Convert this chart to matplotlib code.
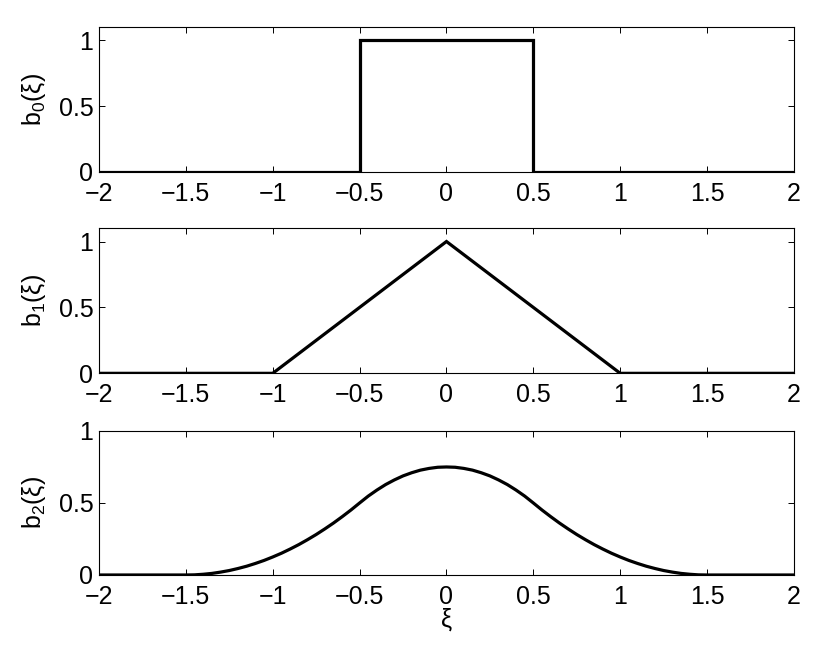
import matplotlib
matplotlib.use("Agg")
import matplotlib.pyplot as plt

plt.rcParams['font.family'] = ['Liberation Sans', 'DejaVu Sans']
plt.rcParams['mathtext.fontset'] = 'custom'
plt.rcParams['mathtext.rm'] = 'Liberation Sans'
plt.rcParams['mathtext.it'] = 'Liberation Sans'

# b0: box function
x0 = [-2.0, -0.5, -0.5, 0.5, 0.5, 2.0]
y0 = [0.0, 0.0, 1.0, 1.0, 0.0, 0.0]

# b1: hat function
x1 = [-2.0, -1.0, 0.0, 1.0, 2.0]
y1 = [0.0, 0.0, 1.0, 0.0, 0.0]

# b2: quadratic bump
x2 = [-2.0, -1.5, -1.45, -1.4, -1.35, -1.3, -1.25, -1.2, -1.15, -1.1, -1.05,
      -1.0, -0.95, -0.9, -0.85, -0.8, -0.75, -0.7, -0.65, -0.6, -0.55,
      -0.5, -0.45, -0.4, -0.35, -0.3, -0.25, -0.2, -0.15, -0.1, -0.05,
      0.0, 0.05, 0.1, 0.15, 0.2, 0.25, 0.3, 0.35, 0.4, 0.45,
      0.5, 0.55, 0.6, 0.65, 0.7, 0.75, 0.8, 0.85, 0.9, 0.95,
      1.0, 1.05, 1.1, 1.15, 1.2, 1.25, 1.3, 1.35, 1.4, 1.45, 1.5, 2.0]
y2 = [0.0, 0.0, 0.001, 0.005, 0.011, 0.02, 0.031, 0.045, 0.061, 0.08, 0.101,
      0.125, 0.151, 0.18, 0.211, 0.245, 0.281, 0.32, 0.361, 0.405, 0.451,
      0.5, 0.548, 0.59, 0.628, 0.66, 0.688, 0.71, 0.728, 0.74, 0.748,
      0.75, 0.748, 0.74, 0.728, 0.71, 0.688, 0.66, 0.628, 0.59, 0.548,
      0.5, 0.451, 0.405, 0.361, 0.32, 0.281, 0.245, 0.211, 0.18, 0.151,
      0.125, 0.101, 0.08, 0.061, 0.045, 0.031, 0.02, 0.011, 0.005, 0.001, 0.0, 0.0]

xticks = [-2, -1.5, -1, -0.5, 0, 0.5, 1, 1.5, 2]
xticklabels = ['\u22122', '\u22121.5', '\u22121', '\u22120.5', '0', '0.5', '1', '1.5', '2']
yticks = [0, 0.5, 1]
yticklabels = ['0', '0.5', '1']
ylabels = ['b$_0$(\u03be)', 'b$_1$(\u03be)', 'b$_2$(\u03be)']
ylims = [(0, 1.1), (0, 1.1), (0, 1.0)]

fig = plt.figure(figsize=(8.36, 6.47), dpi=100)
left, width = 0.1184, 0.8313
rects = [
    [left, 0.7342, width, 0.2241],
    [left, 0.4230, width, 0.2241],
    [left, 0.1113, width, 0.2226],
]
data = [(x0, y0), (x1, y1), (x2, y2)]

for i, (r, (xs, ys)) in enumerate(zip(rects, data)):
    ax = fig.add_axes(r)
    ax.plot(xs, ys, color='black', lw=2.3, solid_joinstyle='miter')
    ax.set_xlim(-2, 2)
    ax.set_ylim(*ylims[i])
    ax.set_xticks(xticks)
    ax.set_xticklabels(xticklabels)
    ax.set_yticks(yticks)
    ax.set_yticklabels(yticklabels)
    ax.tick_params(direction='in', length=4, width=0.7, top=True, right=True,
                   labelsize=18)
    ax.tick_params(axis='x', pad=7)
    ax.tick_params(axis='y', pad=4)
    for s in ax.spines.values():
        s.set_linewidth(0.8)
    ax.set_ylabel(ylabels[i], fontsize=18, labelpad=8)

ax.set_xlabel('\u03be', fontsize=18, labelpad=-1)

fig.savefig('out.png', dpi=100)
